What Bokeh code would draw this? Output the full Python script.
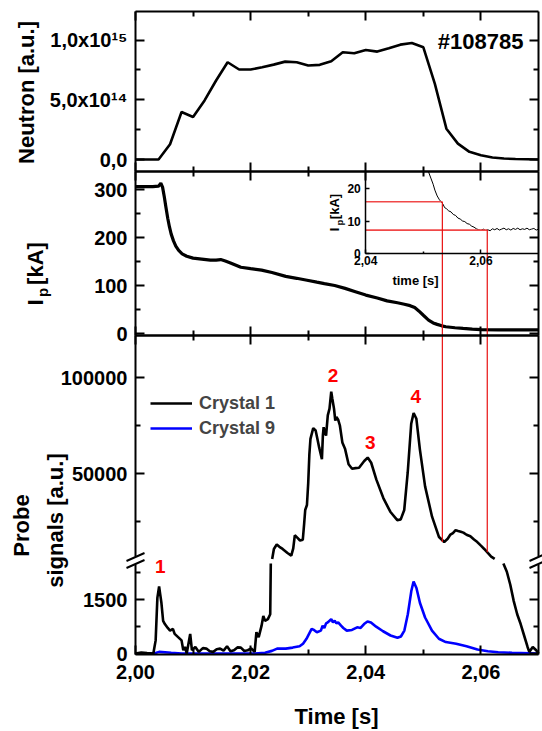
import math
from bokeh.plotting import figure
from bokeh.models import (Range1d, LinearAxis, FixedTicker, CustomJSTickFormatter,
                          Label, Legend, LegendItem)
from bokeh.embed import file_html
from bokeh.resources import INLINE

nan = float("nan")

# ---------------- data ----------------
neutron_t = [2.000, 2.002, 2.004, 2.006, 2.008, 2.010, 2.012, 2.014, 2.016, 2.018,
             2.020, 2.022, 2.024, 2.026, 2.028, 2.030, 2.032, 2.034, 2.036, 2.038,
             2.040, 2.042, 2.044, 2.046, 2.048, 2.050, 2.052, 2.054, 2.056, 2.058,
             2.060, 2.062, 2.064, 2.066, 2.068, 2.070]
neutron_1e15 = [0.0, 0.0, 0.0, 0.128, 0.397, 0.356, 0.494, 0.661, 0.814, 0.753,
                0.753, 0.772, 0.794, 0.819, 0.814, 0.786, 0.792, 0.822, 0.897, 0.889,
                0.917, 0.903, 0.931, 0.961, 0.975, 0.939, 0.633, 0.258, 0.133, 0.064,
                0.036, 0.017, 0.008, 0.004, 0.002, 0.0]

ip_t = [2.0000, 2.0030, 2.0040, 2.0044, 2.0047, 2.0050, 2.0053, 2.0056, 2.0059, 2.0062,
        2.0066, 2.0070, 2.0075, 2.0081, 2.0089, 2.0100, 2.0115, 2.0130, 2.0140, 2.0148,
        2.0156, 2.0165, 2.0183, 2.0200, 2.0219, 2.0237, 2.0261, 2.0280, 2.0298, 2.0315,
        2.0328, 2.0346, 2.0364, 2.0382, 2.0400, 2.0420, 2.0437, 2.0455, 2.0467, 2.0477,
        2.0485, 2.0492, 2.0500, 2.0509, 2.0517, 2.0524, 2.0532, 2.0539, 2.0555, 2.0569,
        2.0585, 2.0600, 2.0630, 2.0660, 2.0700]
ip_kA = [306, 306, 307, 313, 305, 285, 262, 240, 222, 207,
         193, 182, 173, 166, 161, 157, 155, 153, 153, 154,
         151, 147, 138, 135, 132, 127, 119, 115, 111, 107,
         104, 100, 94, 87, 80, 74, 68, 64, 61, 58,
         54, 47, 38, 28, 22, 19, 16, 14, 12, 10.5,
         9, 8, 7.5, 7.5, 7.5]

inset_t = [2.0509, 2.0513, 2.0517, 2.0520, 2.0524, 2.0528, 2.0531, 2.0534, 2.0537, 2.0540,
           2.0544, 2.0548, 2.0552, 2.0556, 2.0560, 2.0564, 2.0568, 2.0572, 2.0576, 2.0580,
           2.0584, 2.0588, 2.0592, 2.0596, 2.0600, 2.0604, 2.0608, 2.0612, 2.0616, 2.0620,
           2.0624, 2.0628, 2.0632, 2.0636, 2.0640, 2.0644, 2.0648, 2.0652, 2.0656, 2.0660,
           2.0664, 2.0668, 2.0672, 2.0676, 2.0680, 2.0684, 2.0688, 2.0692, 2.0696, 2.0700]
inset_kA = [25.2, 23.3, 21.4, 19.6, 17.8, 16.6, 16.0, 15.3, 14.2, 13.9,
            13.2, 12.9, 12.1, 11.8, 11.0, 10.7, 10.1, 9.9, 9.3, 9.1,
            8.5, 8.2, 7.7, 7.4, 7.2, 7.6, 7.2, 7.4, 7.1, 7.7,
            7.4, 7.8, 7.3, 7.6, 7.9, 7.4, 7.7, 7.3, 7.8, 7.5,
            7.9, 7.4, 7.7, 7.5, 7.9, 7.4, 7.6, 7.8, 7.3, 7.6]

# Crystal 1, upper (broken) part of the probe axis
c1_hi_t = [2.02374, 2.02404, 2.02453, 2.02500, 2.02555, 2.02640, 2.02706, 2.02740, 2.02767, 2.02810,
           2.02858, 2.02906, 2.02930, 2.02948, 2.02978, 2.03000, 2.03020, 2.03039, 2.03087, 2.03129,
           2.03160, 2.03190, 2.03238, 2.03255, 2.03268, 2.03285, 2.03310, 2.03340, 2.03370, 2.03400,
           2.03418, 2.03448, 2.03470, 2.03490, 2.03520, 2.03550, 2.03593, 2.03641, 2.03701, 2.03762,
           2.03820, 2.03883, 2.03973, 2.04033, 2.04094, 2.04184, 2.04305, 2.04426, 2.04547, 2.04607,
           2.04668, 2.04728, 2.04789, 2.04831, 2.04879, 2.04939, 2.05030, 2.05151, 2.05272, 2.05362,
           2.05423, 2.05470, 2.05514, 2.05560, 2.05604, 2.05650, 2.05695, 2.05750, 2.05816, 2.05880,
           2.05937, 2.06000, 2.06057, 2.06120, 2.06178, 2.06239]
c1_hi = [5500, 10700, 13000, 11800, 10700, 8600, 7200, 11000, 17800, 16600,
         15100, 15500, 24000, 31000, 33600, 45000, 60000, 68000, 73600, 72400,
         68000, 63600, 57400, 70000, 74100, 72000, 69700, 80300, 83800, 92600,
         89100, 83800, 77600, 79400, 78000, 75000, 66200, 62700, 54800, 52500,
         52800, 53000, 56500, 58300, 55600, 46800, 37200, 30100, 25700, 26100,
         31000, 50400, 75900, 81500, 78500, 62700, 43300, 27500, 16900, 14300,
         16000, 18200, 19000, 20500, 20100, 19700, 19200, 18100, 17300, 15600,
         14300, 12400, 10700, 8600, 6700, 5500]

# Crystal 1, lower part of the probe axis (gap where it is off this scale)
c1_lo_t = [2.0000, 2.0010, 2.0020, 2.0031, 2.0035, 2.0038, 2.0041, 2.0043, 2.0045, 2.0048,
           2.0051, 2.0056, 2.0060, 2.0065, 2.0068, 2.0074, 2.0080, 2.0083, 2.0086, 2.0089,
           2.0095, 2.0098, 2.0104, 2.0110, 2.0117, 2.0123, 2.0129, 2.0135, 2.0141, 2.0147,
           2.0153, 2.0159, 2.0165, 2.0171, 2.0177, 2.0183, 2.0189, 2.0195, 2.0201, 2.0207,
           2.0210, 2.0214, 2.0219, 2.0222, 2.0225, 2.0230, 2.0234, 2.0235, nan,
           2.0639, 2.0645, 2.0651, 2.0657, 2.0663, 2.0669, 2.0675, 2.0681, 2.0684, 2.0690,
           2.0696, 2.0700]
c1_lo = [0, 30, 10, 0, 364, 1545, 1864, 1636, 1409, 909,
         818, 709, 636, 682, 545, 455, 364, 91, 182, 0,
         545, 91, 182, 45, 150, 136, 60, 45, 120, 136,
         80, 200, 60, 91, 170, 164, 70, 91, 140, 45,
         591, 455, 773, 1045, 909, 955, 1091, 2500, nan,
         2500, 2270, 1909, 1455, 1091, 818, 500, 182, 45, 182,
         91, 0]

# Crystal 9 (stays on the lower scale)
c9_t = [2.0000, 2.0032, 2.0041, 2.0062, 2.0080, 2.0207, 2.0225, 2.0237, 2.0246, 2.0261,
        2.0273, 2.0285, 2.0291, 2.0297, 2.0303, 2.0306, 2.0310, 2.0315, 2.0322, 2.0325,
        2.0328, 2.0331, 2.0334, 2.0337, 2.0340, 2.0343, 2.0346, 2.0349, 2.0352, 2.0357,
        2.0361, 2.0367, 2.0376, 2.0385, 2.0391, 2.0397, 2.0403, 2.0409, 2.0418, 2.0430,
        2.0443, 2.0455, 2.0461, 2.0467, 2.0473, 2.0479, 2.0483, 2.0488, 2.0494, 2.0503,
        2.0515, 2.0527, 2.0539, 2.0557, 2.0575, 2.0594, 2.0612, 2.0630, 2.0654, 2.0700]
c9 = [0, 0, 45, 20, 0, 0, 20, 73, 136, 136,
      164, 200, 273, 409, 591, 682, 655, 591, 636, 773,
      709, 836, 864, 909, 955, 864, 909, 836, 864, 773,
      709, 636, 655, 727, 709, 818, 891, 864, 745, 618,
      500, 436, 473, 636, 1091, 1727, 2000, 1818, 1409, 1000,
      636, 409, 318, 273, 200, 109, 64, 36, 18, 0]

# red guide lines: times, inset current, probe signal where they end
marker_t = [2.0533, 2.0611]
marker_ip = [16.0, 7.3]
marker_probe = [14300, 9000]

peak_names = ["1", "2", "3", "4"]
peak_t = [2.0043, 2.0343, 2.0408, 2.0487]

x_ticks = [2.00, 2.02, 2.04, 2.06]
x_minor = [2.01, 2.03, 2.05]

# ---------------- geometry (pixels from the top-left corner) ----------------
W, H = 542, 731
L, R, T, B = 135, 538, 11, 654
X0, X1 = 2.0, 2.07
FONT = "Liberation Sans"


def xpx(px):
    return X0 + (px - L) * (X1 - X0) / (R - L)


class Band:
    def __init__(self, v1, p1, v2, p2):
        self.v1, self.p1 = v1, p1
        self.k = (v2 - v1) / (p2 - p1)

    def v(self, p):
        return self.v1 + (p - self.p1) * self.k

    def p(self, v):
        return self.p1 + (v - self.v1) / self.k

    def rng(self):
        # the plotting frame covers the whole canvas
        return Range1d(self.v(H), self.v(0))


neut = Band(1.0, 39.5, 0.0, 159)
ipb = Band(300, 189, 0, 333)
ins = Band(20, 188.3, 0, 253.3)
hi = Band(100000, 377, 50000, 473)
lo = Band(1500, 599, 0, 653)

SEP1, SEP2, BRK = 170.5, 335, 560

p = figure(width=W, height=H, x_range=Range1d(xpx(0), xpx(W)), y_range=lo.rng(),
           output_backend="svg", toolbar_location=None, title=None,
           x_axis_location=None, y_axis_location=None, min_border=0)
p.extra_y_ranges = {"neut": neut.rng(), "ip": ipb.rng(), "inset": ins.rng(), "hi": hi.rng()}
p.outline_line_color = None
p.grid.visible = False
p.background_fill_color = "white"
p.border_fill_color = "white"


def style(ax, labels=True, size="20px", tin=9, mtin=5, lw=2, standoff=8):
    ax.major_tick_in = tin
    ax.major_tick_out = 0
    ax.minor_tick_in = mtin
    ax.minor_tick_out = 0
    ax.major_tick_line_width = lw
    ax.minor_tick_line_width = lw
    ax.axis_line_width = lw
    ax.major_label_standoff = standoff
    if labels:
        ax.major_label_text_font = FONT
        ax.major_label_text_font_style = "bold"
        ax.major_label_text_font_size = size
        ax.major_label_text_color = "black"
    else:
        ax.major_label_text_font_size = "0px"
        ax.major_label_text_alpha = 0


comma2 = CustomJSTickFormatter(code="return tick.toFixed(2).replace('.', ',');")
int_fmt = CustomJSTickFormatter(code="return tick.toFixed(0);")
neut_fmt = CustomJSTickFormatter(code="""
if (Math.abs(tick) < 1e-9) return '0,0';
if (Math.abs(tick - 0.5) < 1e-9) return '5,0x10\u00b9\u2074';
if (Math.abs(tick - 1.0) < 1e-9) return '1,0x10\u00b9\u2075';
return '';
""")

# main time axis (bottom of the probe panel)
xa = LinearAxis(fixed_location=lo.v(B), ticker=FixedTicker(ticks=x_ticks, minor_ticks=x_minor),
                formatter=comma2, bounds=(X0, X1))
style(xa, size="20px", standoff=10)
p.add_layout(xa, "below")

# band edge x-axes (ticks only)
for name, band, loc_px, side in [("neut", neut, T, "above"), ("neut", neut, SEP1, "below"),
                                 ("ip", ipb, SEP1, "above"), ("ip", ipb, SEP2, "below"),
                                 ("hi", hi, SEP2, "above")]:
    ax = LinearAxis(y_range_name=name, fixed_location=band.v(loc_px), bounds=(X0, X1),
                    ticker=FixedTicker(ticks=x_ticks, minor_ticks=x_minor))
    style(ax, labels=False)
    p.add_layout(ax, side)

# left / right axes of every band
bands = [
    ("neut", neut, [0.0, 0.5, 1.0], [0.25, 0.75], neut_fmt, SEP1, T),
    ("ip", ipb, [0, 100, 200, 300], [50, 150, 250], int_fmt, SEP2, SEP1),
    ("hi", hi, [50000, 100000], [25000, 75000], int_fmt, BRK - 4, SEP2),
    ("default", lo, [0, 1500], [750, 2250], int_fmt, B, BRK + 4),
]
for name, band, tk, mtk, fmt, pb, pt in bands:
    for loc, side, lab in [(X0, "left", True), (X1, "right", False)]:
        ax = LinearAxis(y_range_name=name, fixed_location=loc,
                        ticker=FixedTicker(ticks=tk, minor_ticks=mtk), formatter=fmt,
                        bounds=(band.v(pb), band.v(pt)))
        style(ax, labels=lab)
        p.add_layout(ax, side)

# inset axes
ia = LinearAxis(y_range_name="inset", fixed_location=2.04,
                ticker=FixedTicker(ticks=[0, 10, 20], minor_ticks=[]),
                formatter=int_fmt, bounds=(0, ins.v(SEP1)))
style(ia, size="12px", tin=4, mtin=2, lw=1.5, standoff=5)
p.add_layout(ia, "left")
ib = LinearAxis(y_range_name="inset", fixed_location=0.0,
                ticker=FixedTicker(ticks=[2.04, 2.06], minor_ticks=[2.05]),
                formatter=comma2, bounds=(2.04, X1))
style(ib, size="12px", tin=4, mtin=2, lw=1.5, standoff=2)
p.add_layout(ib, "below")

# axis-break marks (two short parallel strokes on each side)
bx0, by0, bx1, by1 = [], [], [], []
for cx in (L, R):
    for dy in (-3.5, 3.5):
        bx0.append(xpx(cx - 9))
        by0.append(lo.v(BRK + dy + 4))
        bx1.append(xpx(cx + 9))
        by1.append(lo.v(BRK + dy - 4))
p.segment(x0=bx0, y0=by0, x1=bx1, y1=by1, line_color="black", line_width=2)

# ---------------- curves ----------------
p.line(neutron_t, neutron_1e15, y_range_name="neut", line_color="black", line_width=2.6)
p.line(ip_t, ip_kA, y_range_name="ip", line_color="black", line_width=3.2)
p.line(inset_t, inset_kA, y_range_name="inset", line_color="black", line_width=1)
r_c9 = p.line(c9_t, c9, line_color="#0000ff", line_width=2.6)
p.line(c1_lo_t, c1_lo, line_color="black", line_width=2.6)
r_c1 = p.line(c1_hi_t, c1_hi, y_range_name="hi", line_color="black", line_width=2.6)

# red guide lines
p.segment(x0=[2.04, 2.04], y0=marker_ip, x1=marker_t, y1=marker_ip,
          y_range_name="inset", line_color="#f04848", line_width=1.6)
p.segment(x0=marker_t, y0=[hi.v(ins.p(v)) for v in marker_ip], x1=marker_t, y1=marker_probe,
          y_range_name="hi", line_color="#e81010", line_width=1.2)

# legend (offsets from the frame's bottom-left, i.e. the canvas corner)
legend = Legend(items=[LegendItem(label="Crystal 1", renderers=[r_c1]),
                       LegendItem(label="Crystal 9", renderers=[r_c9])],
                location=(150, H - 438.5), glyph_width=42, glyph_height=20, label_height=20,
                spacing=4, padding=0, margin=0, label_standoff=7,
                label_text_font=FONT, label_text_font_style="bold",
                label_text_font_size="18px", border_line_color=None,
                background_fill_alpha=0)
p.add_layout(legend)


# ---------------- texts ----------------
def lab(text, px, py, size, color="black", angle=0.0, align="center", baseline="middle"):
    p.add_layout(Label(x=xpx(px), y=lo.v(py), text=text, text_font=FONT,
                       text_font_style="bold", text_font_size=size, text_color=color,
                       angle=angle, text_align=align, text_baseline=baseline))


up = math.pi / 2
lab("Neutron [a.u.]", 26, 92, "22px", angle=up)
lab("I", 34.5, 302, "22px", angle=up)
lab("p", 42, 292, "15px", angle=up)
lab("[kA]", 34.5, 263, "22px", angle=up)
lab("Probe", 21, 525, "22px", angle=up)
lab("signals [a.u.]", 55, 520, "22px", angle=up)
lab("Time [s]", 336, 716, "22px")
lab("#108785", 523, 41, "22px", align="right")
# inset labels
lab("I", 334, 229, "13px", angle=up)
lab("p", 339, 222, "9px", angle=up)
lab("[kA]", 334, 206, "13px", angle=up)
lab("time [s]", 415, 280, "13px")

# peak numbers
peak_vals = [lo.v(566), hi.v(375), hi.v(442), hi.v(396)]
for name, t, v, rn in zip(peak_names, peak_t, peak_vals, ["default", "hi", "hi", "hi"]):
    p.add_layout(Label(x=t, y=v, y_range_name=rn, text=name, text_font=FONT,
                       text_font_style="bold", text_font_size="19px", text_color="#ff0000",
                       text_align="center", text_baseline="middle"))

open("out.html", "w").write(file_html(p, INLINE))
